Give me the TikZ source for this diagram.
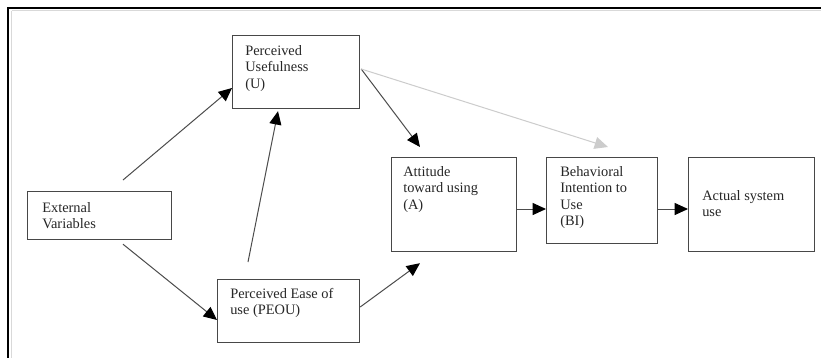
\documentclass[tikz,border=0pt]{standalone}
\usepackage{fontspec}
\setmainfont{Liberation Serif}
\usetikzlibrary{arrows.meta,calc}
\begin{document}
\begin{tikzpicture}[x=0.75pt,y=-0.75pt,
  box/.style={draw=black!72,line width=0.9pt,rectangle,inner sep=0pt,anchor=north west},
  lbl/.style={anchor=north west,inner sep=0pt,align=left,text=black!85,
    font=\fontsize{10.8pt}{12.2pt}\selectfont},
  link/.style={draw=black!70,line width=0.75pt,
    -{Triangle[length=10pt,width=9pt,color=black,fill=black]}},
  faint/.style={draw=black!20,line width=0.75pt,-{Triangle[length=10pt,width=9pt]}}]
\useasboundingbox[fill=white] (0,0) rectangle (821,358);
% outer frame (top and left rules)
\draw[black!15,line width=0.8pt] (11.5,10.5) -- (821,10.5);
\draw[black!15,line width=0.8pt] (11.5,10.5) -- (11.5,358);
\draw[black,line width=1.5pt] (8,8) -- (821,8);
\draw[black,line width=1.5pt] (8,7) -- (8,358);

% boxes
\node[box,minimum width=95.25pt,minimum height=54.75pt] (pu) at (232,35) {};
\node[box,minimum width=108pt,minimum height=36pt] (ev) at (27,191) {};
\node[box,minimum width=106.5pt,minimum height=47.25pt] (peou) at (217,279) {};
\node[box,minimum width=93.75pt,minimum height=70.5pt] (att) at (391,157) {};
\node[box,minimum width=83.25pt,minimum height=64.5pt] (bi) at (546,157) {};
\node[box,minimum width=94.5pt,minimum height=70.5pt] (use) at (688,157) {};

% labels
\node[lbl] (tpu) at ($(pu.north west)+(13,10.3)$) {Perceived\\Usefulness\\(U)};
\node[lbl] (tev) at ($(ev.north west)+(15,11.3)$) {External\\Variables};
\node[lbl] (tpeou) at ($(peou.north west)+(13,9.3)$) {Perceived Ease of\\use (PEOU)};
\node[lbl] (tatt) at ($(att.north west)+(12,9.3)$) {Attitude\\toward using\\(A)};
\node[lbl] (tbi) at ($(bi.north west)+(14,9.3)$) {Behavioral\\Intention to\\Use\\(BI)};
\node[lbl] (tuse) at ($(use.north west)+(14,33.3)$) {Actual system\\use};

% connector ends
\coordinate (evtop) at ($(ev.north west)+(96,-11)$);
\coordinate (evbot) at ($(ev.south west)+(96,4)$);
\coordinate (peoutop) at ($(peou.north west)+(31,-17)$);
\coordinate (peouright) at ($(peou.north east)+(0,28)$);
\coordinate (puright) at ($(pu.north east)+(1,34)$);
\coordinate (attin1) at ($(att.north west)+(29,-10)$);
\coordinate (attin2) at ($(att.south west)+(29,11)$);
\coordinate (biin) at ($(bi.north west)+(62,-10)$);

% connectors
\draw[link] (evtop) -- ($(pu.north west)+(0,53)$);
\draw[link] (evbot) -- ($(peou.north west)+(0,41)$);
\draw[link] (peoutop) -- ($(pu.south west)+(46,2)$);
\draw[link] (peouright) -- (attin2);
\draw[link] (puright) -- (attin1);
\draw[faint] (puright) -- (biin);
\draw[link] (att.east |- 0,209) -- (bi.west |- 0,209);
\draw[link] (bi.east |- 0,209) -- (use.west |- 0,209);
\end{tikzpicture}
\end{document}
